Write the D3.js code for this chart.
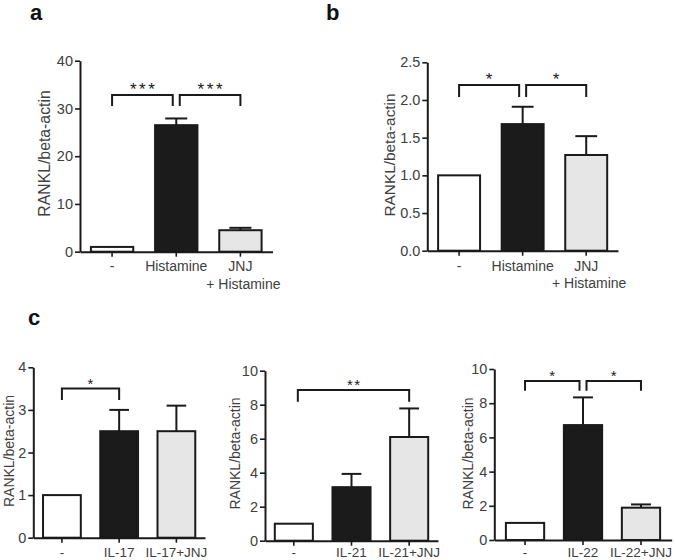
<!DOCTYPE html>
<html><head><meta charset="utf-8">
<script src="https://cdn.jsdelivr.net/npm/d3@7"></script>
<style>
html,body{margin:0;padding:0;background:#fff;}
svg{display:block;font-family:"Liberation Sans",Arial,sans-serif;}
</style></head><body>
<svg id="chart" width="675" height="560"></svg>
<script>
// ---------------- DATA ----------------
const histCategories = [["-"], ["Histamine"], ["JNJ", "+ Histamine"]];
const panelAValues = [1.0, 26.5, 4.5];
const panelAErrors = [0, 1.4, 0.5];
const panelATicks = [0, 10, 20, 30, 40];
const panelABrackets = [[0, 1, "***"], [1, 2, "***"]];
const panelABracketTop = 32.8, panelABracketLeg = 30.5;

const panelBValues = [1.0, 1.68, 1.27];
const panelBErrors = [0, 0.23, 0.25];
const panelBTicks = [0, 0.5, 1.0, 1.5, 2.0, 2.5];
const panelBBrackets = [[0, 1, "*"], [1, 2, "*"]];
const panelBBracketTop = 2.2, panelBBracketLeg = 2.04;

const il17Categories = [["-"], ["IL-17"], ["IL-17+JNJ"]];
const il17Values = [1.0, 2.5, 2.5];
const il17Errors = [0, 0.5, 0.6];
const il17Ticks = [0, 1, 2, 3, 4];
const il17Brackets = [[0, 1, "*"]];
const il17BracketTop = 3.5, il17BracketLeg = 3.23;

const il21Categories = [["-"], ["IL-21"], ["IL-21+JNJ"]];
const il21Values = [1.0, 3.15, 6.1];
const il21Errors = [0, 0.78, 1.68];
const il21Ticks = [0, 2, 4, 6, 8, 10];
const il21Brackets = [[0, 2, "**"]];
const il21BracketTop = 8.86, il21BracketLeg = 8.18;

const il22Categories = [["-"], ["IL-22"], ["IL-22+JNJ"]];
const il22Values = [1.0, 6.72, 1.89];
const il22Errors = [0, 1.62, 0.19];
const il22Ticks = [0, 2, 4, 6, 8, 10];
const il22Brackets = [[0, 1, "*"], [1, 2, "*"]];
const il22BracketTop = 9.3, il22BracketLeg = 8.73;

const yLabel = "RANKL/beta-actin";
const barFills = ["#ffffff", "#1b1b1b", "#e6e6e6"];

// ---------------- DRAW ----------------
const svg = d3.select("#chart");
const INK = "#1a1a1a", TXT = "#404040";

function panel(o) {
  const g = svg.append("g");
  const keys = o.cats.map((c, i) => i);
  const x = d3.scaleBand().domain(keys).range(o.xr).paddingInner(0.34).paddingOuter(o.po ?? 0.17);
  const y = d3.scaleLinear().domain([0, o.ticks[o.ticks.length - 1]]).range(o.yr);
  const cx = i => x(i) + x.bandwidth() / 2;

  // bars
  g.selectAll("rect.bar").data(o.values).join("rect")
    .attr("x", (d, i) => x(i)).attr("width", x.bandwidth())
    .attr("y", d => y(d)).attr("height", d => y(0) - y(d))
    .attr("fill", (d, i) => barFills[i]).attr("stroke", INK).attr("stroke-width", 2);

  // error bars
  const capW = x.bandwidth() * 0.52;
  o.values.forEach((v, i) => {
    const e = o.errors[i];
    if (!e) return;
    g.append("line").attr("x1", cx(i)).attr("x2", cx(i)).attr("y1", y(v)).attr("y2", y(v + e))
      .attr("stroke", INK).attr("stroke-width", 2);
    g.append("line").attr("x1", cx(i) - capW / 2).attr("x2", cx(i) + capW / 2).attr("y1", y(v + e)).attr("y2", y(v + e))
      .attr("stroke", INK).attr("stroke-width", 2);
  });

  // axes
  const ya = g.append("g").attr("transform", `translate(${o.xr[0]},0)`)
    .call(d3.axisLeft(y).tickValues(o.ticks).tickSize(5).tickSizeOuter(0).tickPadding(2).tickFormat(o.fmt || d3.format("d")));
  const xa = g.append("g").attr("transform", `translate(0,${o.yr[0]})`)
    .call(d3.axisBottom(x).tickSize(5).tickSizeOuter(0).tickFormat(""));
  [ya, xa].forEach(a => {
    a.selectAll("path.domain").attr("stroke", INK).attr("stroke-width", 2);
    a.selectAll(".tick line").attr("stroke", INK).attr("stroke-width", 1.6);
  });
  ya.selectAll(".tick text").attr("fill", TXT).attr("font-size", o.tickFont)
    .attr("font-family", "Liberation Sans, Arial, sans-serif");

  // x labels
  o.cats.forEach((lines, i) => {
    lines.forEach((t, k) => {
      g.append("text").attr("x", cx(i) + (k ? o.line2dx || 0 : 0)).attr("y", o.xlabY + k * o.lineH)
        .attr("text-anchor", "middle").attr("fill", TXT).attr("font-size", o.xFont).text(t);
    });
  });

  // y label
  g.append("text").attr("transform", `translate(${o.ylab[0]},${o.ylab[1]}) rotate(-90)`)
    .attr("text-anchor", "middle").attr("fill", TXT).attr("font-size", o.yFont).text(yLabel);

  // significance brackets
  o.brackets.forEach(([a, b, lab]) => {
    const shareA = o.brackets.some(q => q[1] === a) ? 3.5 : 0;
    const shareB = o.brackets.some(q => q[0] === b) ? 3.5 : 0;
    const x1 = cx(a) + shareA + (o.bOff ? o.bOff[0] : 0), x2 = cx(b) - shareB;
    const yt = y(o.bTop), yl = y(o.bLeg);
    g.append("path").attr("d", `M${x1},${yl}V${yt}H${x2}V${yl}`)
      .attr("fill", "none").attr("stroke", INK).attr("stroke-width", 2);
    g.append("text").attr("x", (x1 + x2) / 2 + o.starLs / 2).attr("y", yt + o.starDy)
      .attr("text-anchor", "middle").attr("fill", INK).attr("font-size", o.starFont)
      .attr("letter-spacing", o.starLs).text(lab);
  });

  // panel letter
  if (o.letter) {
    svg.append("text").attr("x", o.letter[1]).attr("y", o.letter[2])
      .attr("font-weight", "bold").attr("font-size", 22).attr("fill", "#111").text(o.letter[0]);
  }
}

panel({cats: histCategories, values: panelAValues, errors: panelAErrors, ticks: panelATicks,
  brackets: panelABrackets, bTop: panelABracketTop, bLeg: panelABracketLeg,
  xr: [80, 272.5], yr: [251.7, 60.7], tickFont: 14.5, xFont: 14, xlabY: 270.7, lineH: 18.3, line2dx: 3,
  ylab: [50, 153.5], yFont: 15.8, starFont: 17, starLs: 2.6, starDy: 0, letter: ["a", 30, 20]});

panel({cats: histCategories, values: panelBValues, errors: panelBErrors, ticks: panelBTicks,
  fmt: d3.format(".1f"),
  brackets: panelBBrackets, bTop: panelBBracketTop, bLeg: panelBBracketLeg,
  xr: [427.3, 618], yr: [250.7, 62.3], tickFont: 14.5, xFont: 14, xlabY: 270.7, lineH: 17.6, line2dx: 3,
  ylab: [395, 155], yFont: 15.4, starFont: 17, starLs: 0, starDy: 0, letter: ["b", 326, 20]});

panel({cats: il17Categories, values: il17Values, errors: il17Errors, ticks: il17Ticks,
  brackets: il17Brackets, bTop: il17BracketTop, bLeg: il17BracketLeg,
  xr: [33.3, 205], yr: [537.7, 367.3], tickFont: 14.5, xFont: 13.5, xlabY: 556.7, lineH: 16,
  ylab: [14, 451], yFont: 14, starFont: 15, starLs: 1, starDy: 0});

panel({cats: il21Categories, values: il21Values, errors: il21Errors, ticks: il21Ticks,
  brackets: il21Brackets, bTop: il21BracketTop, bLeg: il21BracketLeg, bOff: [4],
  xr: [265, 438], yr: [540.7, 370.7], tickFont: 14.5, xFont: 13.5, xlabY: 556.7, lineH: 16,
  ylab: [240, 453.5], yFont: 14, starFont: 15, starLs: 1.5, starDy: 0});

panel({cats: il22Categories, values: il22Values, errors: il22Errors, ticks: il22Ticks,
  brackets: il22Brackets, bTop: il22BracketTop, bLeg: il22BracketLeg,
  xr: [494.3, 671.7], yr: [540, 369], po: 0.2, tickFont: 14.5, xFont: 13.5, xlabY: 556.7, lineH: 16,
  ylab: [473, 453.5], yFont: 14, starFont: 15, starLs: 1, starDy: 0});

svg.append("text").attr("x", 28).attr("y", 325).attr("font-weight", "bold")
  .attr("font-size", 22).attr("fill", "#111").text("c");
</script>
</body></html>
